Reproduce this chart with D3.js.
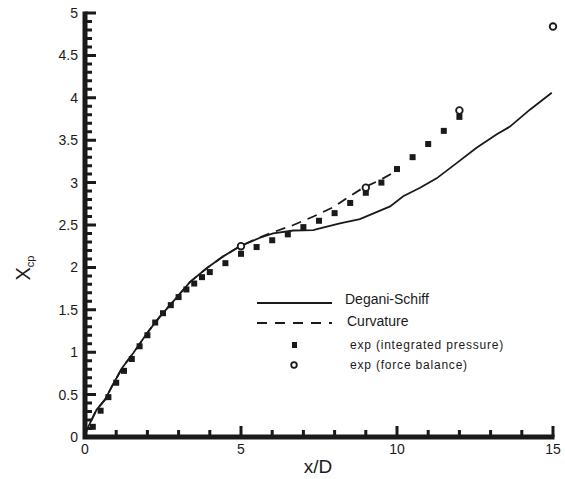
<!DOCTYPE html>
<html>
<head>
<meta charset="utf-8">
<script src="https://cdn.jsdelivr.net/npm/d3@7"></script>
<style>
  body { margin: 0; background: #fff; }
  svg text { font-family: "Liberation Sans", Arial, sans-serif; fill: #1a1a1a; }
</style>
</head>
<body>
<svg id="chart" width="565" height="479"></svg>
<script>
// Degani-Schiff prediction
var dsX = [0, 0.05, 0.37, 0.64, 0.91, 1.2, 1.55, 1.98, 2.4, 2.83, 3.37, 3.9, 4.43, 4.97, 5.61, 6.03, 6.68, 7.32, 7.43, 8.17, 8.81, 9.78, 10.2, 10.74, 11.27, 11.91, 12.55, 13.2, 13.62, 14.26, 14.96];
var dsY = [0, 0.08, 0.32, 0.44, 0.63, 0.82, 0.99, 1.22, 1.42, 1.6, 1.83, 1.99, 2.13, 2.25, 2.35, 2.4, 2.435, 2.44, 2.45, 2.52, 2.57, 2.72, 2.84, 2.94, 3.05, 3.23, 3.41, 3.57, 3.66, 3.86, 4.06];

// Curvature prediction
var cvX = [0, 0.05, 0.37, 0.64, 0.91, 1.2, 1.55, 1.98, 2.4, 2.83, 3.37, 3.9, 4.43, 4.97, 5.5, 6.03, 6.68, 7.32, 7.96, 8.49, 8.92, 9.46, 9.9];
var cvY = [0, 0.08, 0.32, 0.44, 0.63, 0.82, 0.99, 1.22, 1.42, 1.6, 1.83, 1.99, 2.13, 2.25, 2.34, 2.415, 2.5, 2.6, 2.71, 2.84, 2.94, 3.03, 3.12];

// experiment, integrated pressure
var ipX = [0.25, 0.5, 0.75, 1.0, 1.25, 1.5, 1.75, 2.0, 2.25, 2.5, 2.75, 3.0, 3.25, 3.5, 3.75, 4.0, 4.5, 5.0, 5.5, 6.0, 6.5, 7.0, 7.5, 8.0, 8.5, 9.0, 9.5, 10.0, 10.5, 11.0, 11.5, 12.0];
var ipY = [0.12, 0.31, 0.47, 0.64, 0.78, 0.92, 1.07, 1.2, 1.35, 1.46, 1.555, 1.65, 1.74, 1.81, 1.885, 1.945, 2.05, 2.16, 2.24, 2.32, 2.39, 2.475, 2.55, 2.64, 2.76, 2.88, 3.0, 3.16, 3.3, 3.455, 3.61, 3.775];

// experiment, force balance
var fbX = [5, 9, 12, 15];
var fbY = [2.25, 2.94, 3.85, 4.84];

var xTicks = [0, 5, 10, 15];
var yTicks = [0, 0.5, 1, 1.5, 2, 2.5, 3, 3.5, 4, 4.5, 5];

var legendLabels = ['Degani-Schiff', 'Curvature', 'exp (integrated pressure)', 'exp (force balance)'];

var ink = '#1a1a1a';
var svg = d3.select('#chart');

var xScale = d3.scaleLinear().domain([0, 15]).range([85, 553]);
var yScale = d3.scaleLinear().domain([0, 5]).range([437, 13]);

function pairs(xs, ys) {
  return xs.map(function (v, i) { return [v, ys[i]]; });
}

// Axes: one path for the frame lines and inward ticks
var axisPath = d3.path();
xScale.ticks(15).forEach(function (d) {
  var major = xTicks.indexOf(d) >= 0;
  axisPath.moveTo(xScale(d), 437);
  axisPath.lineTo(xScale(d), major ? 426 : 430);
});
yScale.ticks(50).forEach(function (d) {
  var major = yTicks.indexOf(d) >= 0;
  axisPath.moveTo(85, yScale(d));
  axisPath.lineTo(major ? 96 : 92, yScale(d));
});

var axes = svg.append('g').attr('class', 'axes');
axes.append('path')
  .attr('d', axisPath.toString())
  .attr('fill', 'none')
  .attr('stroke', ink)
  .attr('stroke-width', 3);
axes.append('path')
  .attr('d', 'M' + (xScale(0) - 2.5) + ',' + yScale(0) + 'H' + (xScale(15) + 1.5) +
    'M' + xScale(0) + ',' + (yScale(0) + 2.5) + 'V' + (yScale(5) - 1.5))
  .attr('fill', 'none')
  .attr('stroke', ink)
  .attr('stroke-width', 5);

axes.selectAll('text.xlab')
  .data(xTicks)
  .enter()
  .append('text')
  .attr('class', 'xlab')
  .attr('x', function (d) { return xScale(d); })
  .attr('y', 454)
  .attr('text-anchor', 'middle')
  .attr('font-size', 14)
  .text(function (d) { return String(d); });

axes.selectAll('text.ylab')
  .data(yTicks)
  .enter()
  .append('text')
  .attr('class', 'ylab')
  .attr('x', 78)
  .attr('y', function (d) { return yScale(d) + 5; })
  .attr('text-anchor', 'end')
  .attr('font-size', 14)
  .text(function (d) { return String(d); });

// Axis titles
svg.append('text')
  .attr('x', 318)
  .attr('y', 473)
  .attr('text-anchor', 'middle')
  .attr('font-size', 19)
  .text('x/D');

var yTitle = svg.append('text')
  .attr('transform', 'translate(30,268) rotate(-90)')
  .attr('text-anchor', 'middle')
  .attr('font-size', 20);
yTitle.append('tspan').text('X');
yTitle.append('tspan').attr('font-size', 11).attr('dy', 4).text('cp');

var curve = d3.line()
  .x(function (d) { return xScale(d[0]); })
  .y(function (d) { return yScale(d[1]); });

// Curves
svg.append('path')
  .attr('d', curve(pairs(cvX, cvY)))
  .attr('fill', 'none')
  .attr('stroke', ink)
  .attr('stroke-width', 1.8)
  .attr('stroke-dasharray', '10,7');

svg.append('path')
  .attr('d', curve(pairs(dsX, dsY)))
  .attr('fill', 'none')
  .attr('stroke', ink)
  .attr('stroke-width', 1.8);

// Squares
svg.append('g').selectAll('rect')
  .data(pairs(ipX, ipY))
  .enter()
  .append('rect')
  .attr('x', function (d) { return xScale(d[0]) - 3; })
  .attr('y', function (d) { return yScale(d[1]) - 3; })
  .attr('width', 6)
  .attr('height', 6)
  .attr('fill', ink);

// Circles
svg.append('g').selectAll('circle')
  .data(pairs(fbX, fbY))
  .enter()
  .append('circle')
  .attr('cx', function (d) { return xScale(d[0]); })
  .attr('cy', function (d) { return yScale(d[1]); })
  .attr('r', 3.3)
  .attr('fill', '#fff')
  .attr('stroke', ink)
  .attr('stroke-width', 1.8);

// Legend
var legend = svg.append('g');
legend.append('line')
  .attr('x1', 257).attr('x2', 332).attr('y1', 303).attr('y2', 303)
  .attr('stroke', ink).attr('stroke-width', 1.8);
legend.append('line')
  .attr('x1', 257).attr('x2', 332).attr('y1', 323).attr('y2', 323)
  .attr('stroke', ink).attr('stroke-width', 1.8)
  .attr('stroke-dasharray', '10,8');
legend.append('rect')
  .attr('x', 292).attr('y', 342).attr('width', 5).attr('height', 6)
  .attr('fill', ink);
legend.append('circle')
  .attr('cx', 294).attr('cy', 365).attr('r', 2.8)
  .attr('fill', '#fff').attr('stroke', ink).attr('stroke-width', 1.8);

var legendY = [304, 326, 349, 369];
var legendX = [345, 347, 350, 350];
var legendSize = [14, 14, 12, 12];
legend.selectAll('text.leg')
  .data(legendLabels)
  .enter()
  .append('text')
  .attr('class', 'leg')
  .attr('x', function (d, i) { return legendX[i]; })
  .attr('y', function (d, i) { return legendY[i]; })
  .attr('font-size', function (d, i) { return legendSize[i]; })
  .attr('letter-spacing', function (d, i) { return i > 1 ? 0.8 : 0; })
  .text(function (d) { return d; });
</script>
</body>
</html>
